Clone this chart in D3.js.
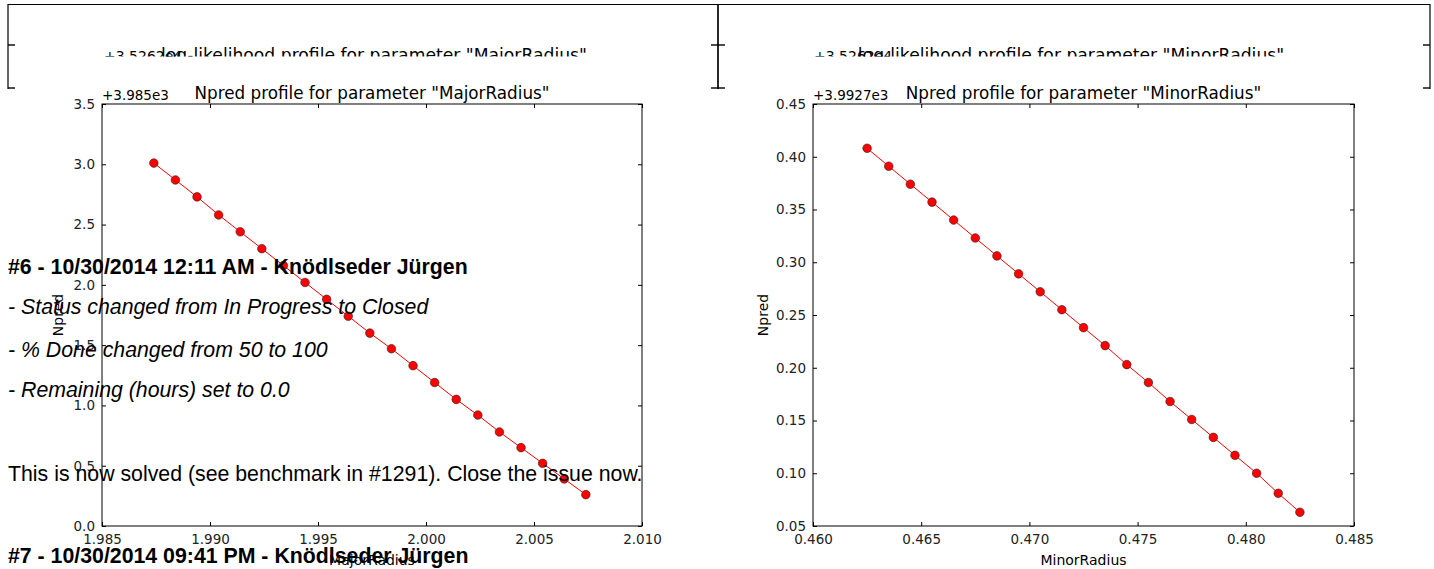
<!DOCTYPE html>
<html>
<head>
<meta charset="utf-8">
<script src="https://cdn.jsdelivr.net/npm/d3@7"></script>
<style>
  body { margin: 0; background: #fff; }
  svg { display: block; }
  .tick text { font-family: "DejaVu Sans", sans-serif; font-size: 13.5px; fill: #222; }
  .mpl { font-family: "DejaVu Sans", sans-serif; fill: #000; }
  .page { font-family: "Liberation Sans", Arial, sans-serif; fill: #000; }
</style>
</head>
<body>
<svg id="chart" width="1434" height="569"></svg>
<script>
// MajorRadius profile (Npred offset by +3.985e3)
const majorX = [1.9874, 1.9884, 1.9894, 1.9904, 1.9914, 1.9924, 1.9934, 1.9944, 1.9954, 1.9964, 1.9974,
                1.9984, 1.9994, 2.0004, 2.0014, 2.0024, 2.0034, 2.0044, 2.0054, 2.0064, 2.0074];
const majorNpred = [3.01, 2.87, 2.73, 2.58, 2.44, 2.30, 2.16, 2.02, 1.88, 1.74, 1.60,
                    1.47, 1.33, 1.19, 1.05, 0.92, 0.78, 0.65, 0.52, 0.39, 0.26];
const majorXTicks = [1.985, 1.990, 1.995, 2.000, 2.005, 2.010];
const majorYTicks = [0.0, 0.5, 1.0, 1.5, 2.0, 2.5, 3.0, 3.5];

// MinorRadius profile (Npred offset by +3.9927e3)
const minorX = [0.4625, 0.4635, 0.4645, 0.4655, 0.4665, 0.4675, 0.4685, 0.4695, 0.4705, 0.4715, 0.4725,
                0.4735, 0.4745, 0.4755, 0.4765, 0.4775, 0.4785, 0.4795, 0.4805, 0.4815, 0.4825];
const minorNpred = [0.408, 0.391, 0.374, 0.357, 0.340, 0.323, 0.306, 0.289, 0.272, 0.255, 0.238,
                    0.221, 0.203, 0.186, 0.168, 0.151, 0.134, 0.117, 0.100, 0.081, 0.063];
const minorXTicks = [0.460, 0.465, 0.470, 0.475, 0.480, 0.485];
const minorYTicks = [0.05, 0.10, 0.15, 0.20, 0.25, 0.30, 0.35, 0.40, 0.45];

// page text that sits over the figures
const journal = [
  { text: "#6 - 10/30/2014 12:11 AM - Knödlseder Jürgen", y: 274, style: "bold" },
  { text: "- Status changed from In Progress to Closed", y: 314, style: "italic" },
  { text: "- % Done changed from 50 to 100", y: 357, style: "italic" },
  { text: "- Remaining (hours) set to 0.0", y: 397, style: "italic" },
  { text: "This is now solved (see benchmark in #1291). Close the issue now.", y: 481, style: "normal" },
  { text: "#7 - 10/30/2014 09:41 PM - Knödlseder Jürgen", y: 563, style: "bold" }
];

const svg = d3.select("#chart");

// clipped bottom of the log-likelihood row above
const topRow = [
  { left: 8, right: 718, center: 374, title: 'log-likelihood profile for parameter "MajorRadius"' },
  { left: 718, right: 1430, center: 1071, title: 'log-likelihood profile for parameter "MinorRadius"' }
];
svg.append("clipPath").attr("id", "textclip")
  .append("rect").attr("x", 0).attr("y", 0).attr("width", 1434).attr("height", 56.5);

topRow.forEach(p => {
  const g = svg.append("g");
  g.append("path")
    .attr("d", `M${p.left},89V4.5H${p.right}V89`)
    .attr("fill", "none").attr("stroke", "#000").attr("stroke-width", 1.2);
  [45, 88].forEach(ty => {
    g.append("line").attr("x1", p.left).attr("x2", p.left + 7).attr("y1", ty).attr("y2", ty)
      .attr("stroke", "#000").attr("stroke-width", 1.4);
    g.append("line").attr("x1", p.right).attr("x2", p.right - 7).attr("y1", ty).attr("y2", ty)
      .attr("stroke", "#000").attr("stroke-width", 1.4);
  });
  const t = g.append("g").attr("clip-path", "url(#textclip)");
  t.append("text").attr("class", "mpl").attr("x", p.left + 96).attr("y", 61)
    .attr("font-size", 14).text("+3.5262e4");
  t.append("text").attr("class", "mpl").attr("x", p.center).attr("y", 61)
    .attr("font-size", 17.2).attr("text-anchor", "middle").text(p.title);
});

function drawPanel(opt) {
  const { left, right, top, bottom } = opt;
  const x = d3.scaleLinear().domain(opt.xDomain).range([left, right]);
  const y = d3.scaleLinear().domain(opt.yDomain).range([bottom, top]);
  const g = svg.append("g");

  const fmtX = d3.format(".3f");
  const fmtY = opt.yFormat;

  g.append("g").attr("transform", `translate(0,${bottom})`)
    .call(d3.axisBottom(x).tickValues(opt.xTicks).tickFormat(fmtX).tickSizeInner(-4).tickSizeOuter(0).tickPadding(8))
    .call(a => a.select(".domain").remove());
  g.append("g").attr("transform", `translate(0,${top})`)
    .call(d3.axisTop(x).tickValues(opt.xTicks).tickFormat("").tickSizeInner(-4).tickSizeOuter(0))
    .call(a => a.select(".domain").remove());
  g.append("g").attr("transform", `translate(${left},0)`)
    .call(d3.axisLeft(y).tickValues(opt.yTicks).tickFormat(fmtY).tickSizeInner(-4).tickSizeOuter(0).tickPadding(7))
    .call(a => a.select(".domain").remove());
  g.append("g").attr("transform", `translate(${right},0)`)
    .call(d3.axisRight(y).tickValues(opt.yTicks).tickFormat("").tickSizeInner(-4).tickSizeOuter(0))
    .call(a => a.select(".domain").remove());
  g.selectAll(".tick line").attr("stroke", "#000");

  g.append("rect").attr("x", left).attr("y", top).attr("width", right - left).attr("height", bottom - top)
    .attr("fill", "none").attr("stroke", "#000").attr("stroke-width", 1);

  const pts = opt.xs.map((v, i) => [v, opt.ys[i]]);
  g.append("path").datum(pts)
    .attr("fill", "none").attr("stroke", "#ff0000").attr("stroke-width", 1)
    .attr("d", d3.line().x(d => x(d[0])).y(d => y(d[1])));
  g.selectAll("circle.pt").data(pts).join("circle")
    .attr("cx", d => x(d[0])).attr("cy", d => y(d[1])).attr("r", 4.3)
    .attr("fill", "#ff0000").attr("stroke", "#222").attr("stroke-width", 0.6);

  g.append("text").attr("class", "mpl").attr("x", left).attr("y", top - 4)
    .attr("font-size", 13.5).text(opt.offset);
  g.append("text").attr("class", "mpl").attr("x", (left + right) / 2).attr("y", top - 5)
    .attr("font-size", 16.8).attr("text-anchor", "middle").text(opt.title);
  g.append("text").attr("class", "mpl").attr("x", (left + right) / 2).attr("y", bottom + 39)
    .attr("font-size", 14).attr("text-anchor", "middle").text(opt.xLabel);
  g.append("text").attr("class", "mpl")
    .attr("transform", `translate(${left - opt.yLabelGap},${(top + bottom) / 2}) rotate(-90)`)
    .attr("font-size", 14).attr("text-anchor", "middle").text("Npred");
}

drawPanel({
  left: 102, right: 642, top: 104, bottom: 526,
  xDomain: [1.985, 2.010], yDomain: [0, 3.5],
  xTicks: majorXTicks, yTicks: majorYTicks, yFormat: d3.format(".1f"), yLabelGap: 39,
  xs: majorX, ys: majorNpred,
  offset: "+3.985e3", title: 'Npred profile for parameter "MajorRadius"', xLabel: "MajorRadius"
});
drawPanel({
  left: 813, right: 1354, top: 104, bottom: 526,
  xDomain: [0.460, 0.485], yDomain: [0.05, 0.45],
  xTicks: minorXTicks, yTicks: minorYTicks, yFormat: d3.format(".2f"), yLabelGap: 45,
  xs: minorX, ys: minorNpred,
  offset: "+3.9927e3", title: 'Npred profile for parameter "MinorRadius"', xLabel: "MinorRadius"
});

svg.append("g").selectAll("text").data(journal).join("text")
  .attr("class", "page")
  .attr("x", 8).attr("y", d => d.y)
  .attr("font-size", 21.3)
  .attr("font-weight", d => d.style === "bold" ? "bold" : "normal")
  .attr("font-style", d => d.style === "italic" ? "italic" : "normal")
  .text(d => d.text);
</script>
</body>
</html>
